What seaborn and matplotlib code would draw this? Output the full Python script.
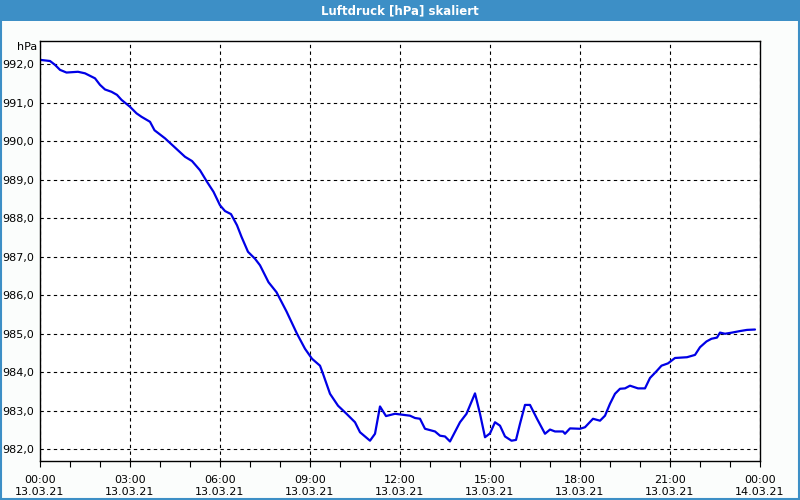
import matplotlib
matplotlib.use("Agg")
import matplotlib.pyplot as plt
import matplotlib.dates as mdates
from matplotlib.patches import Rectangle
import seaborn as sns
import pandas as pd

title = "Luftdruck [hPa] skaliert"
unit = "hPa"
day = "2021-03-13"

times = ["00:00", "00:20", "00:30", "00:40", "00:53", "01:16", "01:30", "01:50", "02:00", "02:10",
         "02:23", "02:34", "02:43", "03:00", "03:13", "03:23", "03:40", "03:49", "04:10", "04:20",
         "04:50", "05:04", "05:20", "05:34", "05:47", "06:00", "06:10", "06:22", "06:34", "06:43",
         "06:56", "07:10", "07:20", "07:37", "07:53", "08:13", "08:34", "08:50", "09:04", "09:20",
         "09:26", "09:40", "09:56", "10:13", "10:30", "10:40", "11:00", "11:10", "11:20", "11:32",
         "11:50", "12:20", "12:30", "12:40", "12:50", "13:10", "13:20", "13:30", "13:40", "14:00",
         "14:13", "14:30", "14:40", "14:50", "15:00", "15:10", "15:20", "15:30", "15:43", "15:52",
         "16:00", "16:10", "16:20", "16:34", "16:50", "17:00", "17:10", "17:26", "17:30", "17:40",
         "18:00", "18:10", "18:26", "18:40", "18:50", "19:00", "19:10", "19:20", "19:30", "19:40",
         "19:56", "20:10", "20:20", "20:34", "20:43", "20:56", "21:10", "21:34", "21:50", "22:00",
         "22:13", "22:23", "22:34", "22:40", "22:50", "23:04", "23:20", "23:34", "23:50"]

pressure = [992.12, 992.09, 991.99, 991.86, 991.79, 991.81, 991.77, 991.64, 991.47, 991.35,
            991.29, 991.21, 991.08, 990.90, 990.73, 990.64, 990.51, 990.29, 990.08, 989.96,
            989.60, 989.49, 989.25, 988.95, 988.69, 988.34, 988.19, 988.11, 987.82, 987.52,
            987.13, 986.95, 986.78, 986.34, 986.08, 985.58, 985.00, 984.61, 984.35, 984.17,
            983.96, 983.44, 983.13, 982.92, 982.70, 982.44, 982.22, 982.40, 983.11, 982.86,
            982.92, 982.87, 982.81, 982.79, 982.53, 982.46, 982.35, 982.33, 982.20, 982.70,
            982.92, 983.45, 982.92, 982.31, 982.41, 982.70, 982.61, 982.33, 982.22, 982.24,
            982.66, 983.15, 983.15, 982.79, 982.40, 982.51, 982.46, 982.46, 982.40, 982.54,
            982.53, 982.57, 982.79, 982.74, 982.87, 983.18, 983.44, 983.57, 983.58, 983.65,
            983.58, 983.58, 983.85, 984.04, 984.17, 984.23, 984.37, 984.39, 984.45, 984.65,
            984.80, 984.87, 984.90, 985.03, 985.00, 985.03, 985.07, 985.10, 985.11]

y_ticks = [982, 983, 984, 985, 986, 987, 988, 989, 990, 991, 992]

df = pd.DataFrame({"time": pd.to_datetime([f"{day} {t}" for t in times]), "p": pressure})

sns.set_style("white")
plt.rcParams["font.family"] = ["DejaVu Sans"]
plt.rcParams["text.color"] = "black"
plt.rcParams["xtick.color"] = "black"
plt.rcParams["ytick.color"] = "black"

bg = "#fbfdfc"
blue_bar = "#3d8fc6"
fig = plt.figure(figsize=(8, 5), dpi=100, facecolor=bg)
ax = fig.add_axes([0.05, 0.0786, 0.90, 0.8394])
ax.set_facecolor("white")

sns.lineplot(data=df, x="time", y="p", ax=ax, color="#0000e6", linewidth=1.6)

x0 = pd.Timestamp(f"{day} 00:00")
x1 = x0 + pd.Timedelta(hours=24)
ax.set_xlim(x0, x1)
ax.set_ylim(981.7, 992.61)

ax.xaxis.set_major_locator(mdates.HourLocator(byhour=range(0, 24, 3)))
ax.xaxis.set_minor_locator(mdates.HourLocator())
ax.xaxis.set_major_formatter(mdates.DateFormatter("%H:%M\n%d.%m.%y"))
ax.set_yticks(y_ticks)
ax.set_yticklabels([f"{v:.1f}".replace(".", ",") for v in y_ticks])

ax.grid(True, which="major", color="black", linestyle=(0, (3, 3)), linewidth=0.8)
ax.tick_params(axis="x", which="both", direction="out", length=4, width=0.8,
               color="black", labelcolor="black", labelsize=8, pad=6, bottom=True)
ax.tick_params(axis="y", which="both", length=0, labelsize=8, labelcolor="black", pad=4, left=False)
for lbl in ax.get_xticklabels():
    lbl.set_linespacing(1.35)
for s in ax.spines.values():
    s.set_color("black")
    s.set_linewidth(1.0)
ax.set_xlabel("")
ax.set_ylabel("")

ax.text(-0.004, 1.0 - 6 / 420, unit, transform=ax.transAxes, ha="right", va="center",
        fontsize=8, color="black")

# title bar and frame
fig.patches.append(Rectangle((0, 1 - 21 / 500), 1, 21 / 500, transform=fig.transFigure,
                             facecolor=blue_bar, edgecolor="none", zorder=0))
fig.patches.append(Rectangle((0.001, 0.002), 0.998, 0.996, transform=fig.transFigure,
                             facecolor="none", edgecolor=blue_bar, linewidth=1.5, zorder=1))
fig.text(0.5, 1 - 10.5 / 500, title, ha="center", va="center", color="white",
         fontsize=8.5, fontweight="bold")

fig.savefig("out.png", dpi=100, facecolor=bg)
